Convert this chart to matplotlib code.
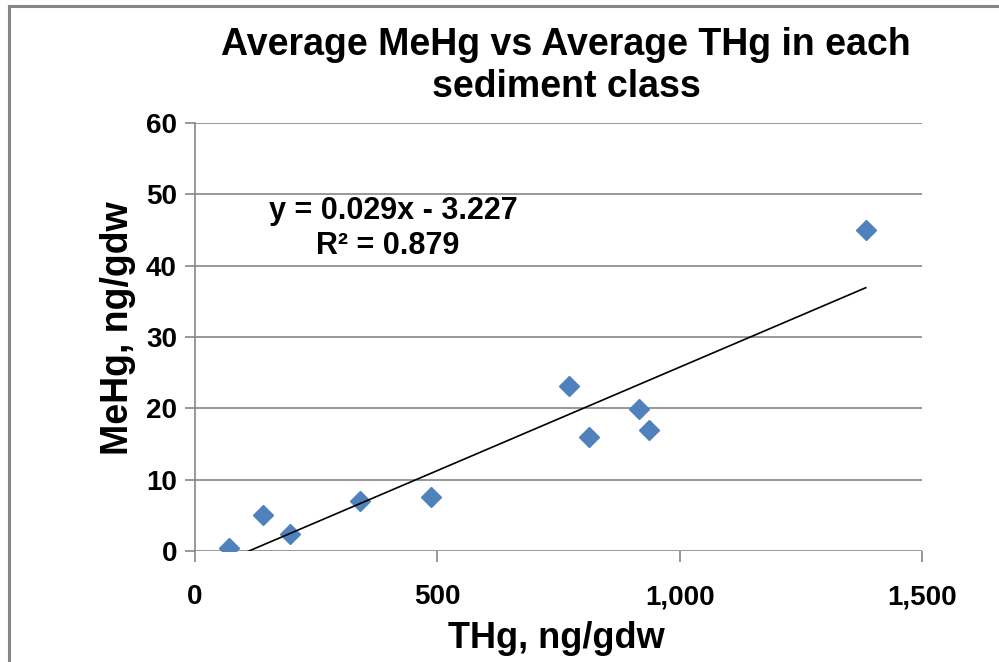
import matplotlib.pyplot as plt
import numpy as np
from matplotlib.lines import Line2D

plt.rcParams['font.family'] = ['Liberation Sans', 'DejaVu Sans']
plt.rcParams['font.weight'] = 'bold'

# average THg / MeHg per sediment class (ng/gdw)
thg = [71, 141, 195, 340, 487, 772, 812, 917, 936, 1384]
mehg = [0.4, 5.05, 2.4, 7.05, 7.6, 23.1, 16.0, 19.9, 16.9, 45.0]

slope = 0.029
intercept = -3.227
r2 = 0.879

xticks = [0, 500, 1000, 1500]
xticklabels = ['0', '500', '1,000', '1,500']
yticks = [0, 10, 20, 30, 40, 50, 60]

grid_col = '#868686'
blue = '#4F81BD'

fig = plt.figure(figsize=(9.99, 6.62), dpi=100)
ax = fig.add_axes([195 / 999, 1 - 551 / 662, 727 / 999, 428 / 662])

ax.plot(thg, mehg, linestyle='none', marker='D', markersize=10.5,
        color=blue, markeredgecolor=blue, zorder=3)

# linear trendline over the data range
xfit = np.array([min(thg), max(thg)])
ax.plot(xfit, slope * xfit + intercept, color='black', lw=1.2, zorder=4)

ax.set_xlim(0, 1500)
ax.set_ylim(0, 60)
ax.set_xticks(xticks)
ax.set_xticklabels(xticklabels)
ax.set_yticks(yticks)
ax.grid(axis='y', color=grid_col, lw=1.2)
ax.set_axisbelow(True)
for s in ['top', 'right', 'bottom']:
    ax.spines[s].set_visible(False)
ax.spines['left'].set_color(grid_col)
ax.spines['left'].set_linewidth(1.2)
ax.tick_params(axis='y', length=7, width=1.2, color=grid_col, labelsize=20, pad=6)
ax.tick_params(axis='x', length=8, width=1.2, color=grid_col, labelsize=20, pad=16)
for lbl in ax.get_xticklabels() + ax.get_yticklabels():
    lbl.set_fontweight('bold')

fig.text(556 / 999, 1 - 638 / 662, 'THg, ng/gdw', ha='center', va='center',
         fontsize=26, fontweight='bold')
fig.text(118 / 999, 1 - 328 / 662, 'MeHg, ng/gdw', ha='center', va='center',
         rotation=90, fontsize=27, fontweight='bold')

fig.text(566 / 999, 1 - 66 / 662, 'Average MeHg vs Average THg in each\nsediment class',
         ha='center', va='center', fontsize=27, fontweight='bold', linespacing=1.22)

ax.text(410, 47.6, 'y = 0.029x - 3.227', ha='center', va='center', fontsize=22, fontweight='bold')
ax.text(397, 42.8, 'R² = 0.879', ha='center', va='center', fontsize=22, fontweight='bold')

# chart area frame
fig.add_artist(Line2D([9 / 999, 9 / 999], [0, 1 - 6 / 662], color=grid_col, lw=2.2))
fig.add_artist(Line2D([9 / 999, 998 / 999], [1 - 6 / 662, 1 - 6 / 662], color=grid_col, lw=2.2))

fig.savefig('out.png', dpi=100)
